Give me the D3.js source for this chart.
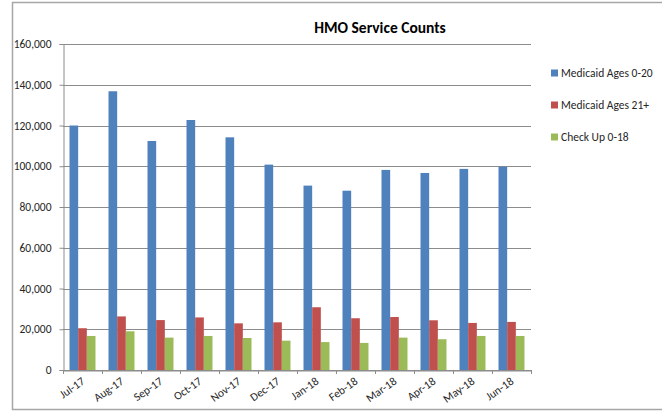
<!DOCTYPE html>
<html>
<head>
<meta charset="utf-8">
<script src="https://cdn.jsdelivr.net/npm/d3@7"></script>
<style>
body { margin: 0; background: #fff; }
svg text { font-family: Carlito, Calibri, Lato, "Open Sans", sans-serif; fill: #262626; }
</style>
</head>
<body>
<svg id="chart" width="662" height="411"></svg>
<script>
var months = ["Jul-17", "Aug-17", "Sep-17", "Oct-17", "Nov-17", "Dec-17", "Jan-18", "Feb-18", "Mar-18", "Apr-18", "May-18", "Jun-18"];
var seriesNames = ["Medicaid Ages 0-20", "Medicaid Ages 21+", "Check Up 0-18"];
var medicaid020 = [120000, 136800, 112400, 122700, 114200, 100800, 90500, 88000, 98200, 96700, 98700, 99800];
var medicaid21 = [20500, 26300, 24500, 25800, 22900, 23400, 30800, 25400, 26000, 24400, 23100, 23600];
var checkUp = [16700, 19000, 15900, 16700, 15700, 14400, 13700, 13300, 15900, 15100, 16700, 16700];
var colors = ["#4f81bd", "#c0504d", "#9bbb59"];
var yTicks = [0, 20000, 40000, 60000, 80000, 100000, 120000, 140000, 160000];

var svg = d3.select("#chart");

// outer chart border (right side runs off the picture)
svg.append("rect")
	.attr("x", 12.5).attr("y", 2.5)
	.attr("width", 700).attr("height", 407)
	.attr("fill", "none")
	.attr("stroke", "#a6a6a6")
	.attr("stroke-width", 1.5);

var plotL = 63, plotR = 531, plotT = 44, plotB = 370;

var x0 = d3.scaleBand().domain(months).range([plotL, plotR]);
var bw = x0.bandwidth();
var x1 = d3.scaleBand().domain(d3.range(3)).range([bw / 6, bw * 5 / 6]);
var y = d3.scaleLinear().domain([0, 160000]).range([plotB, plotT]);

// gridlines
svg.append("g")
	.selectAll("line")
	.data(yTicks)
	.enter()
	.append("line")
	.attr("x1", plotL).attr("x2", plotR)
	.attr("y1", function(d){ return Math.round(y(d)) + 0.5; })
	.attr("y2", function(d){ return Math.round(y(d)) + 0.5; })
	.attr("stroke", "#8c8c8c")
	.attr("stroke-width", 1);

// bars
var rows = months.map(function(m, i){
	return { month: m, values: [medicaid020[i], medicaid21[i], checkUp[i]] };
});

var groups = svg.append("g")
	.selectAll("g")
	.data(rows)
	.enter()
	.append("g")
	.attr("transform", function(d){ return "translate(" + x0(d.month) + ",0)"; });

groups.selectAll("rect")
	.data(function(d){ return d.values; })
	.enter()
	.append("rect")
	.attr("x", function(d, i){ return x1(i); })
	.attr("width", x1.bandwidth())
	.attr("y", function(d){ return y(d); })
	.attr("height", function(d){ return plotB - y(d); })
	.attr("fill", function(d, i){ return colors[i]; });

// y axis
var yAxis = svg.append("g")
	.attr("transform", "translate(" + (plotL + 0.5) + ",0)")
	.call(d3.axisLeft(y).tickValues(yTicks).tickSize(4).tickPadding(8)
		.tickFormat(d3.format(",")));
yAxis.select(".domain").attr("stroke", "#8c8c8c");
yAxis.selectAll(".tick line").attr("stroke", "#8c8c8c");
yAxis.selectAll("text").attr("font-size", "11.5px").attr("fill", "#262626")
	.attr("font-family", null);

// x axis
var xAxis = svg.append("g")
	.attr("transform", "translate(0," + (plotB + 0.5) + ")")
	.call(d3.axisBottom(x0).tickSize(0).tickFormat(""));
xAxis.select(".domain").attr("stroke", "#8c8c8c");

svg.append("g")
	.selectAll("line")
	.data(d3.range(months.length + 1))
	.enter()
	.append("line")
	.attr("x1", function(d){ return Math.round(plotL + d * bw) + 0.5; })
	.attr("x2", function(d){ return Math.round(plotL + d * bw) + 0.5; })
	.attr("y1", plotB).attr("y2", plotB + 4)
	.attr("stroke", "#8c8c8c");

svg.append("g")
	.selectAll("text")
	.data(months)
	.enter()
	.append("text")
	.text(function(d){ return d; })
	.attr("text-anchor", "end")
	.attr("font-size", "11.5px")
	.attr("transform", function(d){
		return "translate(" + (x0(d) + bw / 2 + 3) + "," + (plotB + 13) + ") rotate(-35)";
	});

// title
svg.append("text")
	.text("HMO Service Counts")
	.attr("x", 380).attr("y", 33)
	.attr("text-anchor", "middle")
	.attr("font-size", "15.5px")
	.attr("font-weight", "bold")
	.style("fill", "#000");

// legend
var legend = svg.append("g")
	.selectAll("g")
	.data(seriesNames)
	.enter()
	.append("g")
	.attr("transform", function(d, i){ return "translate(551," + (73 + i * 32) + ")"; });

legend.append("rect")
	.attr("x", 0).attr("y", -3.5)
	.attr("width", 7).attr("height", 7)
	.attr("fill", function(d, i){ return colors[i]; });

legend.append("text")
	.text(function(d){ return d; })
	.attr("x", 10).attr("y", 4)
	.attr("font-size", "11.5px");
</script>
</body>
</html>
